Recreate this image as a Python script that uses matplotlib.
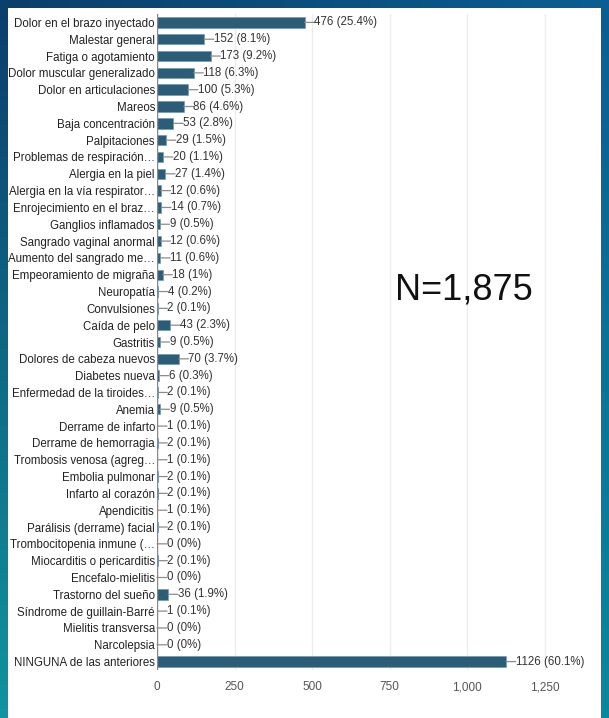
import matplotlib
matplotlib.use("Agg")
import matplotlib.pyplot as plt
from matplotlib.patches import Rectangle
import numpy as np

# ── Data ─────────────────────────────────────────────────────────────────────
SYMPTOMS = [
    "Dolor en el brazo inyectado", "Malestar general", "Fatiga o agotamiento",
    "Dolor muscular generalizado", "Dolor en articulaciones", "Mareos",
    "Baja concentración", "Palpitaciones", "Problemas de respiración…",
    "Alergia en la piel", "Alergia en la vía respirator…",
    "Enrojecimiento en el braz…", "Ganglios inflamados",
    "Sangrado vaginal anormal", "Aumento del sangrado me…",
    "Empeoramiento de migraña", "Neuropatía", "Convulsiones", "Caída de pelo",
    "Gastritis", "Dolores de cabeza nuevos", "Diabetes nueva",
    "Enfermedad de la tiroides…", "Anemia", "Derrame de infarto",
    "Derrame de hemorragia", "Trombosis venosa (agreg…", "Embolia pulmonar",
    "Infarto al corazón", "Apendicitis", "Parálisis (derrame) facial",
    "Trombocitopenia inmune (…", "Miocarditis o pericarditis",
    "Encefalo-mielitis", "Trastorno del sueño", "Síndrome de guillain-Barré",
    "Mielitis transversa", "Narcolepsia", "NINGUNA de las anteriores",
]
COUNTS = [476, 152, 173, 118, 100, 86, 53, 29, 20, 27, 12, 14, 9, 12, 11, 18,
          4, 2, 43, 9, 70, 6, 2, 9, 1, 2, 1, 2, 2, 1, 2, 0, 2, 0, 36, 1, 0, 0,
          1126]
PERCENTS = ["25.4%", "8.1%", "9.2%", "6.3%", "5.3%", "4.6%", "2.8%", "1.5%",
            "1.1%", "1.4%", "0.6%", "0.7%", "0.5%", "0.6%", "0.6%", "1%",
            "0.2%", "0.1%", "2.3%", "0.5%", "3.7%", "0.3%", "0.1%", "0.5%",
            "0.1%", "0.1%", "0.1%", "0.1%", "0.1%", "0.1%", "0.1%", "0%",
            "0.1%", "0%", "1.9%", "0.1%", "0%", "0%", "60.1%"]
X_TICKS = [0, 250, 500, 750, 1000, 1250]
X_TICK_LABELS = ["0", "250", "500", "750", "1,000", "1,250"]
TOTAL_LABEL = "N=1,875"

FONT = ["Liberation Sans", "DejaVu Sans"]
BAR_COLOR = "#2b5d78"

W, H = 609, 718
fig = plt.figure(figsize=(W / 100, H / 100), dpi=100)

# ── Blue gradient frame ──────────────────────────────────────────────────────
bg = fig.add_axes([0, 0, 1, 1], zorder=0)
bg.axis("off")
tl = np.array([0x0b, 0x3f, 0x6c]) / 255
tr = np.array([0x0a, 0x5e, 0x92]) / 255
bl = np.array([0x10, 0x94, 0x9e]) / 255
br = np.array([0x0a, 0x88, 0x9e]) / 255
u = np.linspace(0, 1, 64)[None, :, None]
v = np.linspace(0, 1, 64)[:, None, None]
grad = (1 - v) * ((1 - u) * tl + u * tr) + v * ((1 - u) * bl + u * br)
bg.imshow(grad, extent=[0, 1, 0, 1], aspect="auto", origin="upper")
bg.set_xlim(0, 1)
bg.set_ylim(0, 1)
bg.add_patch(Rectangle((8 / W, 0), (601 - 8) / W, 1 - 8 / H,
                       facecolor="white", edgecolor="none"))

# ── Bar chart ────────────────────────────────────────────────────────────────
ax = fig.add_axes([157 / W, 1 - 670 / H, 400 / W, 656 / H], zorder=1)
ax.patch.set_alpha(0)
y = np.arange(len(SYMPTOMS))
ax.barh(y, COUNTS, height=0.62, color=BAR_COLOR, edgecolor="#6a94aa",
        linewidth=0.4, zorder=3)

# value labels with a short leader line touching the text
for yi, c, p in zip(y, COUNTS, PERCENTS):
    ax.annotate("", xy=(c, yi), xytext=(7, 0), textcoords="offset points",
                arrowprops=dict(arrowstyle="-", color="#8c8c8c", lw=0.9,
                                shrinkA=0, shrinkB=0),
                zorder=4)
    ax.annotate(f"{c} ({p})", xy=(c, yi), xytext=(7, 0),
                textcoords="offset points", ha="left", va="center",
                fontsize=8.3, family=FONT, color="#333333", zorder=4)

ax.set_xlim(0, 1290)
ax.set_ylim(len(SYMPTOMS) - 0.5, -0.5)
ax.set_yticks(y)
ax.set_yticklabels(SYMPTOMS, family=FONT, fontsize=8.3, color="#222222")
ax.set_xticks(X_TICKS)
ax.set_xticklabels(X_TICK_LABELS, family=FONT, fontsize=8.5, color="#555555")
ax.tick_params(length=0, pad=1.5, axis="y")
ax.tick_params(length=0, pad=8, axis="x")
for s in ax.spines.values():
    s.set_visible(False)
ax.grid(axis="x", color="#ececec", lw=1.0, zorder=0)
ax.axvline(0, color="#888888", lw=1.0, zorder=5)

fig.text(464 / W, 1 - 290 / H, TOTAL_LABEL, ha="center", va="center",
         fontsize=26, family=FONT, color="#111111")

fig.savefig("out.png", dpi=100)
